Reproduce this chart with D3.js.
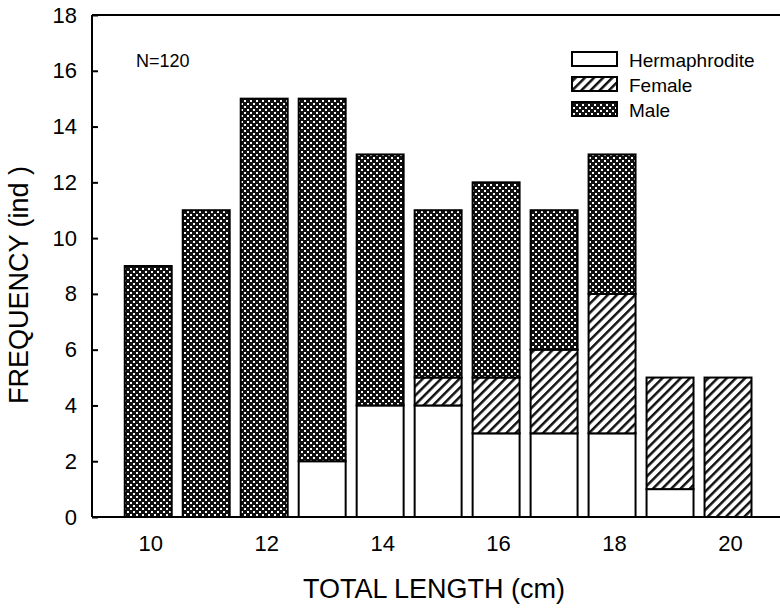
<!DOCTYPE html>
<html>
<head>
<meta charset="utf-8">
<script src="https://cdn.jsdelivr.net/npm/d3@7/dist/d3.min.js"></script>
<style>
  body { margin: 0; background: #fff; }
  text { font-family: "Liberation Sans", Arial, sans-serif; fill: #000; }
</style>
</head>
<body>
<svg id="chart" width="780" height="611"></svg>
<script>
// Data
const lengths = [10, 11, 12, 13, 14, 15, 16, 17, 18, 19, 20];
const herma   = [0, 0, 0, 2, 4, 4, 3, 3, 3, 1, 0];
const female  = [0, 0, 0, 0, 0, 1, 2, 3, 5, 4, 5];
const male    = [9, 11, 15, 13, 9, 6, 7, 5, 5, 0, 0];
const seriesNames = ['Hermaphrodite', 'Female', 'Male'];
const yTicks = [0, 2, 4, 6, 8, 10, 12, 14, 16, 18];
const xTicks = [10, 12, 14, 16, 18, 20];

const svg = d3.select('#chart');

// plot margins
const margin = {top: 15, left: 92};
const plotBottom = 517;

// Scales
const xScale = d3.scaleLinear()
    .domain([9.03, 21])
    .range([margin.left, 786]);
const yScale = d3.scaleLinear()
    .domain([0, 18])
    .range([plotBottom, margin.top]);

const barW = xScale(10.81) - xScale(10);

// Patterns
const defs = svg.append('defs');

const pMale = defs.append('pattern')
    .attr('id', 'male')
    .attr('patternUnits', 'userSpaceOnUse')
    .attr('width', 6).attr('height', 6);
pMale.append('rect').attr('width', 6).attr('height', 6).attr('fill', '#111');
pMale.append('rect').attr('x', 1).attr('y', 1).attr('width', 2).attr('height', 2).attr('fill', '#fff');
pMale.append('rect').attr('x', 4).attr('y', 4).attr('width', 2).attr('height', 2).attr('fill', '#fff');

const pFem = defs.append('pattern')
    .attr('id', 'female')
    .attr('patternUnits', 'userSpaceOnUse')
    .attr('width', 6.5).attr('height', 6.5)
    .attr('patternTransform', 'rotate(45)');
pFem.append('rect').attr('width', 6.5).attr('height', 6.5).attr('fill', '#fff');
pFem.append('line')
    .attr('x1', 0).attr('y1', 0).attr('x2', 0).attr('y2', 6.5)
    .attr('stroke', '#111').attr('stroke-width', 5);

const fills = ['#fff', 'url(#female)', 'url(#male)'];

// Stack data
const rows = lengths.map((l, i) => ({len: l, Hermaphrodite: herma[i], Female: female[i], Male: male[i]}));
const stack = d3.stack().keys(seriesNames)(rows);

const g = svg.append('g');

stack.forEach((layer, k) => {
    g.selectAll('.s' + k)
        .data(layer.filter(d => d[1] > d[0]))
        .enter().append('rect')
        .attr('x', d => xScale(d.data.len) - barW / 2)
        .attr('y', d => yScale(d[1]))
        .attr('width', barW)
        .attr('height', d => yScale(d[0]) - yScale(d[1]))
        .attr('fill', fills[k])
        .attr('stroke', '#000')
        .attr('stroke-width', 2);
});

// Axes frame
svg.append('line')
    .attr('x1', margin.left).attr('x2', 780)
    .attr('y1', margin.top).attr('y2', margin.top)
    .attr('stroke', '#000').attr('stroke-width', 2);

const yAxis = svg.append('g')
    .attr('transform', `translate(${margin.left},0)`)
    .call(d3.axisLeft(yScale).tickValues(yTicks).tickSize(-6).tickPadding(15));
yAxis.select('.domain').attr('stroke-width', 2).attr('d', `M0,${plotBottom}V${margin.top}`);
yAxis.selectAll('.tick line').attr('stroke-width', 2);
yAxis.selectAll('.tick text').style('font-size', '22px');

const xAxis = svg.append('g')
    .attr('transform', `translate(0,${plotBottom})`)
    .call(d3.axisBottom(xScale).tickValues(xTicks).tickSize(0).tickPadding(18));
xAxis.select('.domain').attr('stroke-width', 2).attr('d', `M${margin.left},0H780`);
xAxis.selectAll('.tick text').style('font-size', '22px').attr('dx', 2);

// Axis titles
svg.append('text')
    .attr('x', 434).attr('y', 598)
    .attr('text-anchor', 'middle')
    .style('font-size', '27px')
    .text('TOTAL LENGTH (cm)');

svg.append('text')
    .attr('transform', 'translate(28,285) rotate(-90)')
    .attr('text-anchor', 'middle')
    .style('font-size', '27px')
    .text('FREQUENCY (ind )');

// N label
svg.append('text')
    .attr('x', 136).attr('y', 67)
    .style('font-size', '18px')
    .text('N=120');

// Legend
const legend = svg.append('g').attr('transform', 'translate(572,52)');
seriesNames.forEach((name, i) => {
    legend.append('rect')
        .attr('x', 0).attr('y', i * 25)
        .attr('width', 45).attr('height', 14)
        .attr('fill', fills[i])
        .attr('stroke', '#000').attr('stroke-width', 2);
    legend.append('text')
        .attr('x', 57).attr('y', i * 25 + 15)
        .style('font-size', '19px')
        .text(name);
});
</script>
</body>
</html>
